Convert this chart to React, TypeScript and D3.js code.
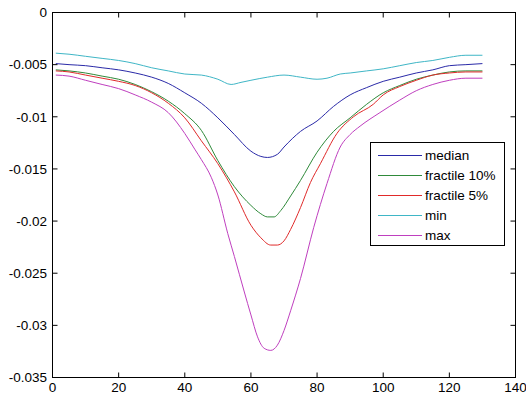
import React from "react";
import * as d3 from "d3";

const xTicks = [0, 20, 40, 60, 80, 100, 120, 140];
const yTicks = [0, -0.005, -0.01, -0.015, -0.02, -0.025, -0.03, -0.035];
const yTickLabels = ["0", "-0.005", "-0.01", "-0.015", "-0.02", "-0.025", "-0.03", "-0.035"];

const medianX = [1, 5, 10, 15, 20, 25, 30, 35, 40, 45, 50, 55, 60, 63, 65, 68, 70, 75, 80, 85, 90, 95, 100, 105, 110, 115, 120, 125, 130];
const medianY = [-0.0049, -0.005, -0.0051, -0.0053, -0.0055, -0.0058, -0.0062, -0.0068, -0.0077, -0.0087, -0.0101, -0.0117, -0.0133, -0.0138, -0.0139, -0.0136, -0.0129, -0.0114, -0.0104, -0.009, -0.0079, -0.0072, -0.0066, -0.0062, -0.0058, -0.0055, -0.0051, -0.005, -0.0049];

const f10X = [1, 5, 10, 15, 20, 25, 30, 35, 40, 45, 50, 55, 60, 63, 65, 67, 69, 72, 75, 80, 85, 90, 95, 100, 105, 110, 115, 120, 125, 130];
const f10Y = [-0.0055, -0.0056, -0.0058, -0.0061, -0.0064, -0.0069, -0.0076, -0.0085, -0.0097, -0.0113, -0.0142, -0.0167, -0.0185, -0.0193, -0.0196, -0.0196, -0.019, -0.0176, -0.0161, -0.0134, -0.0114, -0.0101, -0.0088, -0.0077, -0.007, -0.0064, -0.006, -0.0057, -0.0056, -0.0056];

const f5X = [1, 5, 10, 15, 20, 25, 30, 35, 40, 45, 50, 55, 60, 63, 66, 68, 70, 72, 75, 78, 81, 86, 91, 97, 100, 105, 110, 115, 120, 125, 130];
const f5Y = [-0.0056, -0.0057, -0.006, -0.0063, -0.0066, -0.007, -0.0077, -0.0087, -0.0101, -0.0123, -0.0145, -0.0172, -0.0204, -0.0216, -0.0223, -0.0223, -0.0219, -0.0208, -0.0187, -0.0163, -0.0145, -0.0116, -0.01, -0.0088, -0.0079, -0.0071, -0.0065, -0.006, -0.0058, -0.0057, -0.0057];

const minX = [1, 5, 10, 15, 20, 25, 30, 35, 40, 45, 50, 54, 57, 60, 65, 70, 75, 80, 83, 87, 90, 95, 100, 105, 110, 115, 120, 125, 130];
const minY = [-0.0039, -0.004, -0.0042, -0.0044, -0.0046, -0.0049, -0.0053, -0.0056, -0.0059, -0.006, -0.0064, -0.0069, -0.0067, -0.0065, -0.0062, -0.006, -0.0062, -0.0064, -0.0063, -0.0059, -0.0058, -0.0056, -0.0054, -0.0051, -0.0048, -0.0046, -0.0043, -0.0041, -0.0041];

const maxX = [1, 5, 10, 15, 20, 25, 30, 35, 40, 43, 45, 48, 50, 53, 55, 58, 60, 62, 64, 66, 68, 70, 72, 75, 79, 83, 87, 90, 93, 99, 105, 110, 115, 120, 125, 130];
const maxY = [-0.006, -0.0061, -0.0065, -0.0069, -0.0073, -0.0079, -0.0086, -0.0096, -0.0116, -0.0131, -0.0141, -0.0158, -0.0175, -0.0212, -0.0234, -0.0268, -0.029, -0.0311, -0.0322, -0.0324, -0.0319, -0.0305, -0.0286, -0.0255, -0.0206, -0.0164, -0.0129, -0.0117, -0.0109, -0.0096, -0.0084, -0.0075, -0.0069, -0.0065, -0.0063, -0.0063];

const seriesNames = ["median", "fractile 10%", "fractile 5%", "min", "max"];
const seriesColors = ["#2a2aa8", "#2f8a3a", "#e02a2a", "#3fb6c6", "#bf3fbf"];
const seriesXs = [medianX, f10X, f5X, minX, maxX];
const seriesYs = [medianY, f10Y, f5Y, minY, maxY];

const W = 526;
const H = 394;
const L = 52.5, R = 515.5, T = 12.5, B = 377.5;
const FONT = "'Liberation Sans', Arial, sans-serif";

export default function App() {
  const x = d3.scaleLinear().domain([0, 140]).range([L, R]);
  const y = d3.scaleLinear().domain([-0.035, 0]).range([B, T]);
  const line = d3
    .line<[number, number]>()
    .x((d) => x(d[0]))
    .y((d) => y(d[1]))
    .curve(d3.curveMonotoneX);

  const legX = 370.5, legY = 142.5, legW = 134, legH = 103;
  const rowY = [155.5, 175.5, 195.5, 215.5, 235.5];

  return (
    <svg
      width={W}
      height={H}
      style={{ position: "absolute", left: 0, top: 0, background: "#fff" }}
    >
      <rect x={0} y={0} width={W} height={H} fill="#fff" />
      {seriesNames.map((name, i) => (
        <path
          key={name}
          d={line(seriesXs[i].map((v, j) => [v, seriesYs[i][j]] as [number, number])) || ""}
          fill="none"
          stroke={seriesColors[i]}
          strokeWidth={1}
        />
      ))}
      <rect x={L} y={T} width={R - L} height={B - T} fill="none" stroke="#000" strokeWidth={1} />
      {xTicks.map((t) => (
        <g key={"x" + t}>
          <line x1={x(t)} x2={x(t)} y1={B} y2={B - 5} stroke="#000" />
          <line x1={x(t)} x2={x(t)} y1={T} y2={T + 5} stroke="#000" />
          <text
            x={x(t)}
            y={392}
            textAnchor="middle"
            fontFamily={FONT}
            fontSize={13.5}
            fill="#000"
          >
            {t}
          </text>
        </g>
      ))}
      {yTicks.map((t, i) => (
        <g key={"y" + i}>
          <line x1={L} x2={L + 5} y1={y(t)} y2={y(t)} stroke="#000" />
          <line x1={R} x2={R - 5} y1={y(t)} y2={y(t)} stroke="#000" />
          <text
            x={47}
            y={y(t)}
            dy="0.35em"
            textAnchor="end"
            fontFamily={FONT}
            fontSize={13.5}
            fill="#000"
          >
            {yTickLabels[i]}
          </text>
        </g>
      ))}
      <rect x={legX} y={legY} width={legW} height={legH} fill="#fff" stroke="#000" strokeWidth={1} />
      {seriesNames.map((name, i) => (
        <g key={"leg" + name}>
          <line x1={378} x2={422} y1={rowY[i]} y2={rowY[i]} stroke={seriesColors[i]} strokeWidth={1} />
          <text
            x={425}
            y={rowY[i]}
            dy="0.35em"
            fontFamily={FONT}
            fontSize={13.5}
            fill="#000"
          >
            {name}
          </text>
        </g>
      ))}
    </svg>
  );
}
